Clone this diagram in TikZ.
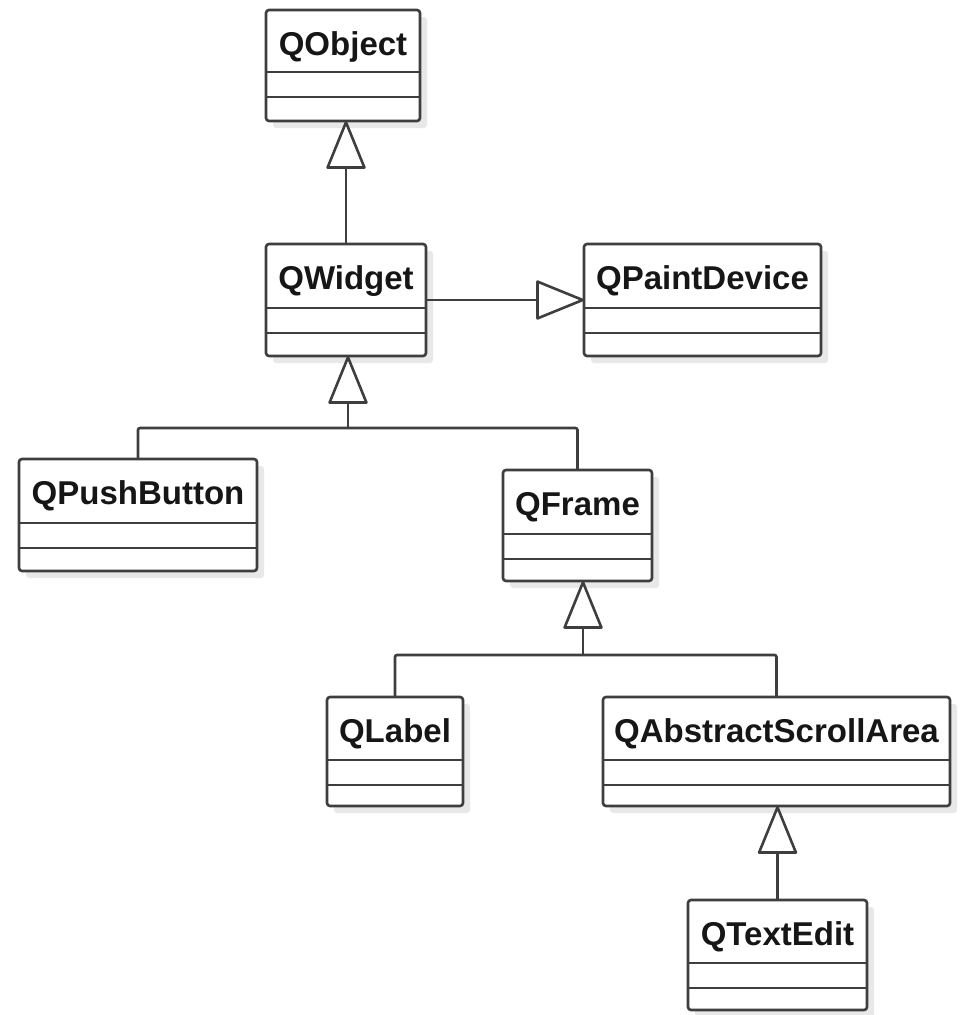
\documentclass[tikz,border=0pt]{standalone}
\usepackage{fontspec}
\setmainfont{Liberation Sans}
\usetikzlibrary{arrows.meta,calc}
\definecolor{umlline}{HTML}{3E3E3E}
\definecolor{umlshadow}{HTML}{E8E8E8}
\definecolor{umltext}{HTML}{161616}
\tikzset{
  classbox/.style={draw=umlline, line width=2.6pt, fill=white, rounded corners=3pt, inner sep=0pt, outer sep=0pt},
  classname/.style={text=umltext, font=\fontsize{33}{40}\selectfont\bfseries, inner sep=0pt, anchor=base},
  umldiv/.style={draw=umlline, line width=2.6pt},
  conn/.style={draw=umlline, line width=2.6pt, rounded corners=2pt},
  inh/.style={draw=umlline, line width=2.6pt, -{Triangle[length=50pt,width=40pt,fill=white,round]}},
}
\newcommand{\umlclass}[8]{%
  \fill[umlshadow,rounded corners=3pt] (#2+7,#3+7) rectangle (#4+7,#5+7);
  \node[classbox, minimum width={(#4-#2)*1pt}, minimum height={(#5-#3)*1pt}, anchor=north west] (#1) at (#2,#3) {};
  \node[classname] (#1-name) at ($(#1.north)+(0,45)$) {#8};
  \draw[umldiv] (#1.west |- 0,#6) -- (#1.east |- 0,#6);
  \draw[umldiv] (#1.west |- 0,#7) -- (#1.east |- 0,#7);
}
\begin{document}
\begin{tikzpicture}[x=1pt,y=-1pt]
\useasboundingbox (0,0) rectangle (959,1015);
\umlclass{qobject}{266}{10}{420}{121}{72}{97}{QObject}
\umlclass{qwidget}{266}{244}{426}{356}{308}{333}{QWidget}
\umlclass{qpaint}{584}{244}{821}{356}{308}{333}{QPaintDevice}
\umlclass{qpush}{19}{459}{257}{571}{523}{548}{QPushButton}
\umlclass{qframe}{503}{470}{652}{581}{534}{559}{QFrame}
\umlclass{qlabel}{327}{697}{463}{806}{760}{785}{QLabel}
\umlclass{qasa}{603}{697}{950}{806}{760}{785}{QAbstractScrollArea}
\umlclass{qtext}{688}{900}{867}{1010}{963}{988}{QTextEdit}

\draw[inh] (qwidget.north) -- (qwidget.north |- qobject.south);
\draw[inh] (qwidget.east) -- (qpaint.west);

\coordinate (j1) at (348,428);
\draw[conn] (qpush.north) |- (j1) -| (qframe.north);
\draw[inh] (j1) -- (j1 |- qwidget.south);

\coordinate (j2) at (583,655);
\draw[conn] (qlabel.north) |- (j2) -| (qasa.north);
\draw[inh] (j2) -- (j2 |- qframe.south);

\draw[inh] (qtext.north) -- (qtext.north |- qasa.south);
\end{tikzpicture}
\end{document}
